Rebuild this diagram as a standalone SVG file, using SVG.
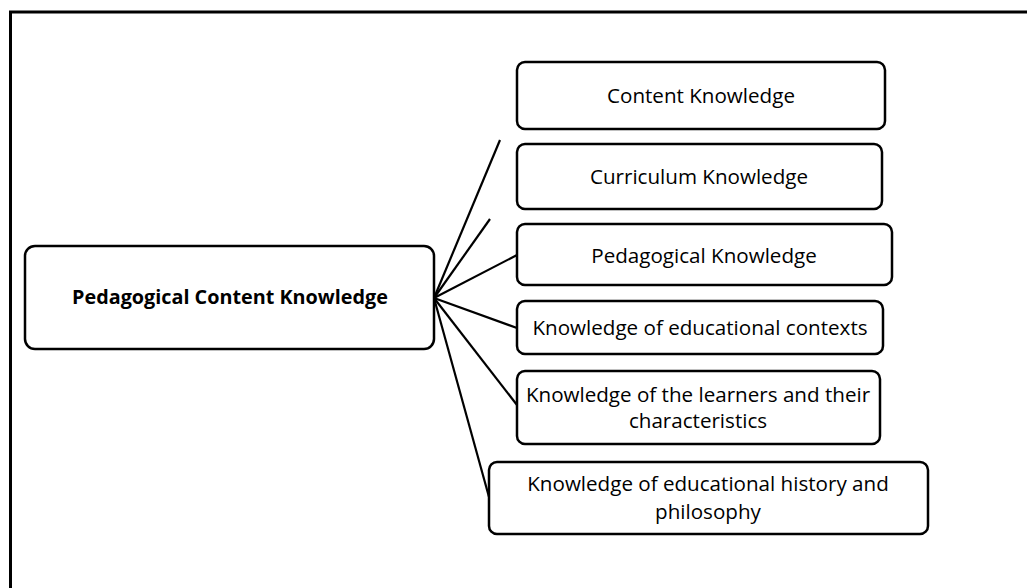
<svg xmlns="http://www.w3.org/2000/svg" width="1027" height="588" viewBox="0 0 1027 588">
<style>
.box{fill:#fff;stroke:#000;stroke-width:2.5}
.t{font-family:"Open Sans","Liberation Sans",sans-serif;font-size:20.6px;fill:#000;text-anchor:middle}
.b{font-weight:bold;font-size:19.8px}
.c{stroke:#000;stroke-width:2.2;fill:none}
</style>
<rect width="1027" height="588" fill="#fff"/>
<path d="M10.5 588 V12 H1027" fill="none" stroke="#000" stroke-width="3"/>
<g id="connectors">
<line class="c" x1="434" y1="298" x2="500" y2="140"/>
<line class="c" x1="434" y1="298" x2="490" y2="219"/>
<line class="c" x1="434" y1="298" x2="517" y2="255"/>
<line class="c" x1="434" y1="298" x2="517" y2="328"/>
<line class="c" x1="434" y1="298" x2="517" y2="405"/>
<line class="c" x1="434" y1="298" x2="489" y2="497"/>
</g>
<g id="pck"><rect class="box" x="25" y="246" width="409" height="103" rx="10"/><text class="t b" x="230" y="304">Pedagogical Content Knowledge</text></g>
<g id="content"><rect class="box" x="517" y="62" width="368" height="67" rx="8"/><text class="t" x="701" y="103">Content Knowledge</text></g>
<g id="curriculum"><rect class="box" x="517" y="144" width="365" height="65" rx="8"/><text class="t" x="699" y="184">Curriculum Knowledge</text></g>
<g id="pedagogical"><rect class="box" x="517" y="224" width="375" height="61" rx="8"/><text class="t" x="704" y="263">Pedagogical Knowledge</text></g>
<g id="contexts"><rect class="box" x="517" y="301" width="366" height="53" rx="8"/><text class="t" x="700" y="335">Knowledge of educational contexts</text></g>
<g id="learners"><rect class="box" x="517" y="371" width="363" height="73" rx="8"/><text class="t" x="698" y="402">Knowledge of the learners and their</text><text class="t" x="698" y="428">characteristics</text></g>
<g id="history"><rect class="box" x="489" y="462" width="439" height="72" rx="8"/><text class="t" x="708" y="491">Knowledge of educational history and</text><text class="t" x="708" y="519">philosophy</text></g>
</svg>
